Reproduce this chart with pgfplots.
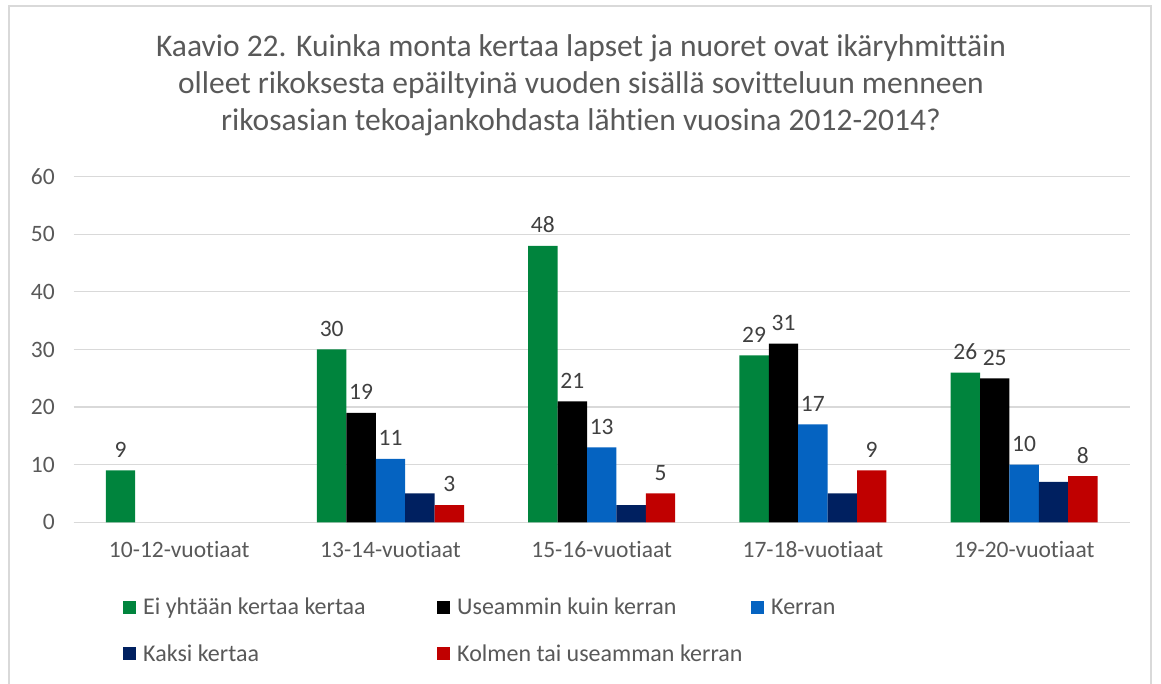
\documentclass[border=0pt]{standalone}
\usepackage{fontspec}
\setmainfont{Carlito}[Ligatures={NoCommon}]
\usepackage{pgfplots}
\pgfplotsset{compat=1.18}
\definecolor{cgreen}{RGB}{0,132,61}
\definecolor{cblue}{RGB}{5,99,193}
\definecolor{cnavy}{RGB}{0,32,96}
\definecolor{cred}{RGB}{192,0,0}
\definecolor{ctext}{RGB}{89,89,89}
\definecolor{clab}{RGB}{64,64,64}
\definecolor{cgrid}{RGB}{217,217,217}
\begin{document}
\begin{tikzpicture}
\path[use as bounding box] (0pt,0pt) rectangle (1161pt,684pt);
\draw[cgrid,line width=1.5pt] (9pt,0pt) -- (9pt,678pt) -- (1151pt,678pt) -- (1151pt,0pt);
\begin{scope}[every node/.style={anchor=base,text=ctext,font=\fontsize{31.5}{37}\selectfont,inner sep=0pt}]
\node at (581pt,627pt) {Kaavio 22. Kuinka monta kertaa lapset ja nuoret ovat ikäryhmittäin};
\node at (581pt,590pt) {olleet rikoksesta epäiltyinä vuoden sisällä sovitteluun menneen};
\node at (581pt,553pt) {rikosasian tekoajankohdasta lähtien vuosina 2012-2014?};
\end{scope}
\begin{axis}[
 at={(73.7pt,161.7pt)}, anchor=south west,
 scale only axis, width=1056pt, height=345.6pt,
 ybar=0pt, bar width=29.4pt,
 xmin=-0.5, xmax=4.5, ymin=0, ymax=60,
 ytick={0,10,...,60},
 xtick={0,1,2,3,4},
 xticklabels={10-12-vuotiaat,13-14-vuotiaat,15-16-vuotiaat,17-18-vuotiaat,19-20-vuotiaat},
 major tick length=0pt,
 axis x line*=bottom, axis y line*=left,
 y axis line style={draw=none},
 x axis line style={cgrid,line width=1.5pt,-},
 ymajorgrids, grid style={cgrid,line width=1.2pt},
 ticklabel style={font=\fontsize{23.5}{28}\selectfont,text=ctext},
 yticklabel style={xshift=-15.5pt},
 xticklabel style={yshift=-16pt},
 /pgf/number format/assume math mode=true,
 nodes near coords,
 every node near coord/.append style={font=\fontsize{23.5}{28}\selectfont,text=clab,yshift=9.5pt},
 legend columns=3,
 legend style={at={(0.0467,-0.219)},anchor=north west,draw=none,inner sep=0pt,
   font=\fontsize{24}{28}\selectfont,text=ctext,row sep=28pt,column sep=3.5pt,
   nodes={inner xsep=3.5pt,inner ysep=0pt}},
 legend cell align=left,
 legend image code/.code={\fill[#1,draw=none] (0pt,-6.5pt) rectangle (13pt,6.5pt);},
 clip=false,
]
\addplot[fill=cgreen,draw=none] coordinates {(0,9) (1,30) (2,48) (3,29) (4,26)};
\addlegendentry{\makebox[287pt][l]{Ei yhtään kertaa kertaa}}
\addplot[fill=black,draw=none] coordinates {(1,19) (2,21) (3,31) (4,25)};
\addlegendentry{\makebox[287pt][l]{Useammin kuin kerran}}
\addplot[fill=cblue,draw=none] coordinates {(1,11) (2,13) (3,17) (4,10)};
\addlegendentry{Kerran}
\addplot[fill=cnavy,draw=none,nodes near coords={}] coordinates {(1,5) (2,3) (3,5) (4,7)};
\addlegendentry{\makebox[287pt][l]{Kaksi kertaa}}
\addplot[fill=cred,draw=none] coordinates {(1,3) (2,5) (3,9) (4,8)};
\addlegendentry{\makebox[287pt][l]{Kolmen tai useamman kerran}}
\end{axis}
\end{tikzpicture}
\end{document}
